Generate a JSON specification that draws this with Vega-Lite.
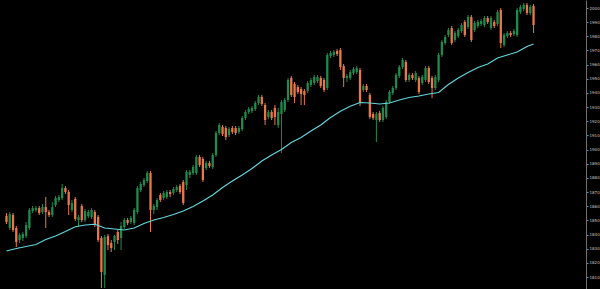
{
  "$schema": "https://vega.github.io/schema/vega-lite/v6.json",
  "width": 586,
  "height": 289,
  "autosize": {"type": "none"},
  "padding": {"left": 0, "top": 0, "right": 14, "bottom": 0},
  "background": "#000000",
  "config": {"view": {"stroke": null}},
  "datasets": {
    "candles": [
      {"i":0,"o":73,"c":67,"hi":76,"lo":65},{"i":1,"o":61,"c":75,"hi":77,"lo":59},{"i":2,"o":74,"c":59,"hi":76,"lo":57},{"i":3,"o":61,"c":47,"hi":63,"lo":42},{"i":4,"o":49,"c":54,"hi":56,"lo":46},{"i":5,"o":51,"c":55,"hi":57,"lo":48},{"i":6,"o":53,"c":64,"hi":67,"lo":51},{"i":7,"o":61,"c":79,"hi":81,"lo":59},{"i":8,"o":78,"c":81,"hi":83,"lo":76},{"i":9,"o":79,"c":81,"hi":83,"lo":77},
      {"i":10,"o":81,"c":76,"hi":83,"lo":74},{"i":11,"o":77,"c":82,"hi":85,"lo":75},{"i":12,"o":82,"c":77,"hi":92,"lo":61},{"i":13,"o":77,"c":74,"hi":79,"lo":72},{"i":14,"o":74,"c":82,"hi":87,"lo":72},{"i":15,"o":84,"c":91,"hi":93,"lo":82},{"i":16,"o":89,"c":92,"hi":94,"lo":87},{"i":17,"o":91,"c":101,"hi":105,"lo":89},{"i":18,"o":101,"c":97,"hi":103,"lo":95},{"i":19,"o":97,"c":84,"hi":99,"lo":74},
      {"i":20,"o":79,"c":86,"hi":89,"lo":77},{"i":21,"o":90,"c":70,"hi":92,"lo":68},{"i":22,"o":69,"c":72,"hi":74,"lo":62},{"i":23,"o":83,"c":69,"hi":85,"lo":67},{"i":24,"o":69,"c":78,"hi":80,"lo":67},{"i":25,"o":73,"c":77,"hi":79,"lo":71},{"i":26,"o":72,"c":79,"hi":81,"lo":70},{"i":27,"o":77,"c":64,"hi":79,"lo":62},{"i":28,"o":72,"c":49,"hi":74,"lo":47},{"i":29,"o":51,"c":17,"hi":53,"lo":1},
      {"i":30,"o":14,"c":52,"hi":54,"lo":1},{"i":31,"o":53,"c":44,"hi":55,"lo":39},{"i":32,"o":46,"c":41,"hi":49,"lo":37},{"i":33,"o":47,"c":53,"hi":54,"lo":39},{"i":34,"o":57,"c":49,"hi":59,"lo":45},{"i":35,"o":51,"c":63,"hi":67,"lo":39},{"i":36,"o":62,"c":69,"hi":71,"lo":60},{"i":37,"o":69,"c":66,"hi":71,"lo":64},{"i":38,"o":67,"c":71,"hi":73,"lo":65},{"i":39,"o":66,"c":79,"hi":81,"lo":64},
      {"i":40,"o":77,"c":101,"hi":103,"lo":75},{"i":41,"o":99,"c":105,"hi":107,"lo":97},{"i":42,"o":104,"c":109,"hi":111,"lo":102},{"i":43,"o":108,"c":116,"hi":118,"lo":106},{"i":44,"o":116,"c":79,"hi":118,"lo":57},{"i":45,"o":79,"c":83,"hi":85,"lo":75},{"i":46,"o":82,"c":89,"hi":91,"lo":79},{"i":47,"o":94,"c":89,"hi":96,"lo":87},{"i":48,"o":91,"c":96,"hi":98,"lo":89},{"i":49,"o":92,"c":97,"hi":99,"lo":90},
      {"i":50,"o":97,"c":95,"hi":99,"lo":92},{"i":51,"o":96,"c":100,"hi":102,"lo":94},{"i":52,"o":99,"c":102,"hi":104,"lo":97},{"i":53,"o":103,"c":97,"hi":105,"lo":95},{"i":54,"o":107,"c":86,"hi":109,"lo":84},{"i":55,"o":104,"c":117,"hi":119,"lo":99},{"i":56,"o":114,"c":117,"hi":119,"lo":111},{"i":57,"o":116,"c":122,"hi":124,"lo":114},{"i":58,"o":116,"c":132,"hi":134,"lo":114},{"i":59,"o":132,"c":124,"hi":134,"lo":122},
      {"i":60,"o":130,"c":109,"hi":132,"lo":107},{"i":61,"o":121,"c":126,"hi":128,"lo":119},{"i":62,"o":126,"c":123,"hi":128,"lo":121},{"i":63,"o":122,"c":134,"hi":136,"lo":120},{"i":64,"o":134,"c":156,"hi":158,"lo":132},{"i":65,"o":156,"c":164,"hi":166,"lo":154},{"i":66,"o":162,"c":155,"hi":164,"lo":153},{"i":67,"o":161,"c":152,"hi":163,"lo":149},{"i":68,"o":154,"c":160,"hi":162,"lo":152},{"i":69,"o":161,"c":157,"hi":163,"lo":155},
      {"i":70,"o":161,"c":156,"hi":163,"lo":154},{"i":71,"o":157,"c":161,"hi":163,"lo":155},{"i":72,"o":160,"c":171,"hi":173,"lo":158},{"i":73,"o":171,"c":177,"hi":179,"lo":169},{"i":74,"o":177,"c":180,"hi":182,"lo":175},{"i":75,"o":178,"c":181,"hi":183,"lo":176},{"i":76,"o":180,"c":186,"hi":188,"lo":178},{"i":77,"o":186,"c":192,"hi":194,"lo":184},{"i":78,"o":192,"c":185,"hi":194,"lo":183},{"i":79,"o":184,"c":169,"hi":186,"lo":164},
      {"i":80,"o":172,"c":177,"hi":179,"lo":170},{"i":81,"o":177,"c":171,"hi":179,"lo":169},{"i":82,"o":181,"c":172,"hi":184,"lo":164},{"i":83,"o":164,"c":177,"hi":181,"lo":161},{"i":84,"o":175,"c":187,"hi":189,"lo":136},{"i":85,"o":179,"c":189,"hi":191,"lo":177},{"i":86,"o":189,"c":209,"hi":211,"lo":187},{"i":87,"o":211,"c":194,"hi":213,"lo":192},{"i":88,"o":205,"c":192,"hi":207,"lo":186},{"i":89,"o":202,"c":197,"hi":204,"lo":195},
      {"i":90,"o":200,"c":195,"hi":202,"lo":184},{"i":91,"o":198,"c":194,"hi":200,"lo":184},{"i":92,"o":198,"c":206,"hi":208,"lo":196},{"i":93,"o":204,"c":209,"hi":211,"lo":202},{"i":94,"o":206,"c":212,"hi":214,"lo":204},{"i":95,"o":208,"c":212,"hi":214,"lo":206},{"i":96,"o":211,"c":203,"hi":213,"lo":201},{"i":97,"o":209,"c":199,"hi":211,"lo":197},{"i":98,"o":201,"c":234,"hi":236,"lo":199},{"i":99,"o":233,"c":236,"hi":238,"lo":231},
      {"i":100,"o":234,"c":237,"hi":239,"lo":232},{"i":101,"o":238,"c":235,"hi":240,"lo":233},{"i":102,"o":239,"c":222,"hi":241,"lo":219},{"i":103,"o":223,"c":211,"hi":225,"lo":202},{"i":104,"o":211,"c":213,"hi":215,"lo":207},{"i":105,"o":211,"c":217,"hi":219,"lo":209},{"i":106,"o":216,"c":220,"hi":222,"lo":214},{"i":107,"o":217,"c":221,"hi":223,"lo":215},{"i":108,"o":219,"c":186,"hi":221,"lo":183},{"i":109,"o":199,"c":203,"hi":205,"lo":197},
      {"i":110,"o":203,"c":199,"hi":205,"lo":197},{"i":111,"o":194,"c":172,"hi":196,"lo":170},{"i":112,"o":175,"c":171,"hi":177,"lo":169},{"i":113,"o":169,"c":175,"hi":177,"lo":147},{"i":114,"o":176,"c":169,"hi":178,"lo":167},{"i":115,"o":169,"c":181,"hi":183,"lo":167},{"i":116,"o":172,"c":187,"hi":189,"lo":170},{"i":117,"o":187,"c":197,"hi":199,"lo":185},{"i":118,"o":196,"c":201,"hi":203,"lo":194},{"i":119,"o":201,"c":214,"hi":216,"lo":199},
      {"i":120,"o":213,"c":222,"hi":224,"lo":211},{"i":121,"o":222,"c":229,"hi":231,"lo":220},{"i":122,"o":227,"c":209,"hi":229,"lo":207},{"i":123,"o":209,"c":214,"hi":216,"lo":207},{"i":124,"o":214,"c":211,"hi":216,"lo":209},{"i":125,"o":209,"c":216,"hi":218,"lo":207},{"i":126,"o":211,"c":197,"hi":213,"lo":195},{"i":127,"o":206,"c":212,"hi":214,"lo":204},{"i":128,"o":209,"c":221,"hi":223,"lo":207},{"i":129,"o":221,"c":207,"hi":223,"lo":205},
      {"i":130,"o":211,"c":201,"hi":213,"lo":191},{"i":131,"o":201,"c":212,"hi":214,"lo":199},{"i":132,"o":209,"c":234,"hi":236,"lo":207},{"i":133,"o":234,"c":247,"hi":249,"lo":232},{"i":134,"o":246,"c":252,"hi":254,"lo":244},{"i":135,"o":254,"c":259,"hi":261,"lo":252},{"i":136,"o":261,"c":246,"hi":263,"lo":244},{"i":137,"o":249,"c":256,"hi":258,"lo":247},{"i":138,"o":253,"c":259,"hi":261,"lo":251},{"i":139,"o":258,"c":264,"hi":266,"lo":256},
      {"i":140,"o":267,"c":254,"hi":269,"lo":252},{"i":141,"o":262,"c":272,"hi":274,"lo":260},{"i":142,"o":272,"c":249,"hi":274,"lo":247},{"i":143,"o":259,"c":266,"hi":268,"lo":257},{"i":144,"o":263,"c":267,"hi":269,"lo":261},{"i":145,"o":265,"c":268,"hi":270,"lo":263},{"i":146,"o":264,"c":271,"hi":273,"lo":262},{"i":147,"o":271,"c":267,"hi":273,"lo":265},{"i":148,"o":261,"c":271,"hi":273,"lo":259},{"i":149,"o":267,"c":263,"hi":269,"lo":261},
      {"i":150,"o":265,"c":277,"hi":279,"lo":263},{"i":151,"o":279,"c":246,"hi":281,"lo":241},{"i":152,"o":244,"c":254,"hi":256,"lo":242},{"i":153,"o":253,"c":256,"hi":258,"lo":251},{"i":154,"o":256,"c":254,"hi":258,"lo":252},{"i":155,"o":255,"c":258,"hi":260,"lo":253},{"i":156,"o":254,"c":279,"hi":281,"lo":252},{"i":157,"o":277,"c":282,"hi":284,"lo":275},{"i":158,"o":280,"c":284,"hi":286,"lo":278},{"i":159,"o":284,"c":276,"hi":286,"lo":274},
      {"i":160,"o":276,"c":282,"hi":284,"lo":274},{"i":161,"o":283,"c":264,"hi":285,"lo":256}
    ],
    "ma": [
      {"i":0,"v":38},{"i":3,"v":40.5},{"i":6,"v":42.5},{"i":9,"v":44.5},{"i":12,"v":49.5},{"i":15,"v":53},{"i":18,"v":57.5},{"i":21,"v":62.3},{"i":24,"v":64},{"i":27,"v":64.8},
      {"i":30,"v":61},{"i":33,"v":60},{"i":36,"v":59},{"i":39,"v":61},{"i":42,"v":65.5},{"i":45,"v":69},{"i":48,"v":71.5},{"i":51,"v":74.5},{"i":54,"v":78},{"i":57,"v":82.5},
      {"i":60,"v":88},{"i":63,"v":94},{"i":66,"v":101.5},{"i":69,"v":108},{"i":72,"v":114},{"i":75,"v":120.5},{"i":78,"v":128},{"i":81,"v":134},{"i":84,"v":139.5},{"i":87,"v":146.5},
      {"i":90,"v":151.5},{"i":93,"v":158},{"i":96,"v":164},{"i":99,"v":171.5},{"i":102,"v":177.8},{"i":105,"v":182.7},{"i":108,"v":186.5},{"i":111,"v":186},{"i":114,"v":185},{"i":117,"v":186},
      {"i":120,"v":189},{"i":123,"v":191.5},{"i":126,"v":193},{"i":129,"v":195},{"i":132,"v":196.5},{"i":135,"v":204.5},{"i":138,"v":211},{"i":141,"v":216.5},{"i":144,"v":221.5},{"i":147,"v":225},
      {"i":150,"v":231},{"i":153,"v":234},{"i":156,"v":237},{"i":159,"v":242.5},{"i":161,"v":245}
    ]
  },
  "layer": [
    {
      "data": {"name": "candles"},
      "mark": {"type": "rule", "strokeWidth": 1},
      "encoding": {
        "x": {"field": "i", "type": "quantitative", "scale": {"domain": [-0.45, 175.5], "nice": false, "zero": false}, "axis": null},
        "y": {
          "field": "lo", "type": "quantitative",
          "scale": {"domain": [0, 289], "nice": false, "zero": false},
          "axis": {
            "orient": "right", "title": null, "grid": false,
            "tickCount": 30,
            "values": [12, 26.16, 40.32, 54.47, 68.63, 82.79, 96.95, 111.11, 125.26, 139.42, 153.58, 167.74, 181.89, 196.05, 210.21, 224.37, 238.53, 252.68, 266.84, 281],
            "labelExpr": "format(1810 + round((datum.value - 12) / 14.158) * 10, 'd')",
            "labelFontSize": 4, "labelColor": "#c8c8c8", "labelFont": "DejaVu Sans",
            "labelPadding": 1, "tickSize": 2, "tickColor": "#8a8a8a",
            "domainColor": "#707070", "labelOverlap": false, "labelBound": false
          }
        },
        "y2": {"field": "hi"},
        "color": {"condition": {"test": "datum.c >= datum.o", "value": "#1f8a4c"}, "value": "#e8784a"}
      }
    },
    {
      "data": {"name": "candles"},
      "mark": {"type": "bar", "size": 2.3},
      "encoding": {
        "x": {"field": "i", "type": "quantitative"},
        "y": {"field": "o", "type": "quantitative"},
        "y2": {"field": "c"},
        "color": {"condition": {"test": "datum.c >= datum.o", "value": "#1f8a4c"}, "value": "#e8784a"}
      }
    },
    {
      "data": {"name": "ma"},
      "mark": {"type": "line", "color": "#62d8de", "strokeWidth": 1.1},
      "encoding": {
        "x": {"field": "i", "type": "quantitative"},
        "y": {"field": "v", "type": "quantitative"}
      }
    }
  ]
}
